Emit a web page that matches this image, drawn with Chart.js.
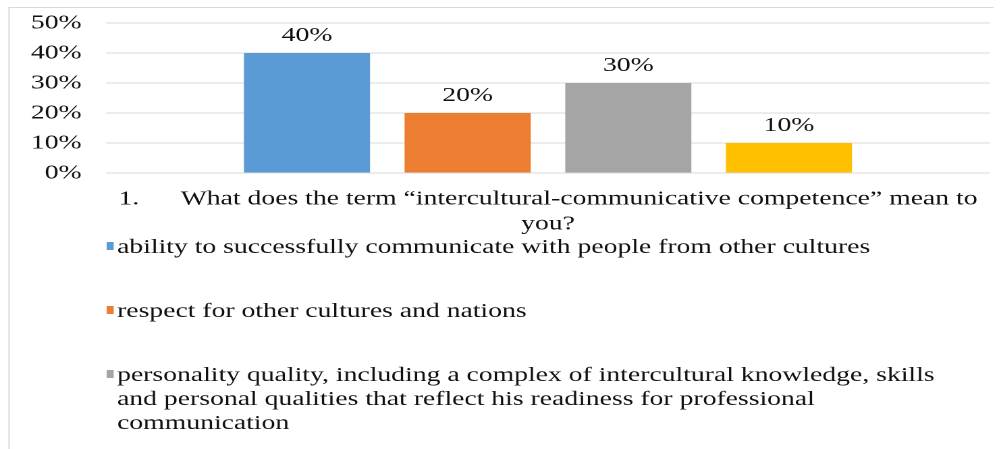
<!DOCTYPE html>
<html>
<head>
<meta charset="utf-8">
<script src="https://cdn.jsdelivr.net/npm/chart.js@4"></script>
<style>
  html, body { margin: 0; padding: 0; background: #fff; overflow: hidden; }
  #wrap { width: 744px; height: 449px; transform: scaleX(1.35); transform-origin: 0 0; }
  canvas { display: block; }
</style>
</head>
<body>
<div id="wrap"><canvas id="chartCompetence" width="744" height="449"></canvas></div>
<script>
// question on the x axis (two lines)
const categories = [
  ["1.      What does the term \u201cintercultural-communicative competence\u201d mean to", "you?"]
];

// answer options, split into the lines they are printed on
const seriesNames = [
  ["ability to successfully communicate with people from other cultures"],
  ["respect for other cultures and nations"],
  ["personality quality, including a complex of intercultural knowledge, skills",
   "and personal qualities that reflect his readiness for professional",
   "communication"],
  [""]
];

const seriesValues = [[40], [20], [30], [10]];
const seriesColors = ["#5B9BD5", "#ED7D31", "#A5A5A5", "#FFC000"];
const yTickMax = 50;
const yTickStep = 10;

const serif = "'Liberation Serif', 'Times New Roman', serif";
const fontSize = 20.5;

// light frame along the top and left of the chart
const framePlugin = {
  id: "frame",
  beforeDraw(chart) {
    const ctx = chart.ctx;
    ctx.save();
    ctx.fillStyle = "#fff";
    ctx.fillRect(0, 0, chart.width, chart.height);
    ctx.strokeStyle = "#D9D9D9";
    ctx.lineWidth = 1;
    ctx.beginPath();
    ctx.moveTo(6.7, chart.height);
    ctx.lineTo(6.7, 7.5);
    ctx.lineTo(736, 7.5);
    ctx.stroke();
    ctx.restore();
  }
};

// value labels above each bar
const valueLabels = {
  id: "valueLabels",
  afterDatasetsDraw(chart) {
    const ctx = chart.ctx;
    ctx.save();
    ctx.font = fontSize + "px " + serif;
    ctx.fillStyle = "#111";
    ctx.textAlign = "center";
    ctx.textBaseline = "alphabetic";
    chart.data.datasets.forEach((ds, i) => {
      chart.getDatasetMeta(i).data.forEach((bar, j) => {
        ctx.fillText(ds.data[j] + "%", bar.x, bar.y - 12);
      });
    });
    ctx.restore();
  }
};

// legend listed below the axis, one entry per row
const rowLegend = {
  id: "rowLegend",
  afterDraw(chart) {
    const ctx = chart.ctx;
    const left = 79;
    const textX = 86.7;
    const lineGap = 24;
    const itemGap = 64;
    let baseline = 253;
    ctx.save();
    ctx.font = fontSize + "px " + serif;
    ctx.textBaseline = "alphabetic";
    ctx.textAlign = "left";
    chart.data.datasets.forEach((ds, i) => {
      ctx.fillStyle = ds.backgroundColor;
      ctx.fillRect(left, baseline - 11, 5.2, 8);
      ctx.fillStyle = "#111";
      const lines = seriesNames[i];
      lines.forEach((line, k) => {
        ctx.fillText(line, textX, baseline + k * lineGap);
      });
      baseline += (lines.length - 1) * lineGap + itemGap;
    });
    ctx.restore();
  }
};

const chartCompetence = document.getElementById("chartCompetence");
new Chart(chartCompetence, {
  type: "bar",
  data: {
    labels: categories,
    datasets: seriesValues.map((vals, i) => ({
      label: seriesNames[i].join(" "),
      data: vals,
      backgroundColor: seriesColors[i],
      borderWidth: 0,
      categoryPercentage: 0.727,
      barPercentage: 0.785
    }))
  },
  options: {
    responsive: false,
    animation: false,
    devicePixelRatio: 2,
    layout: { padding: { top: 23, left: 0, right: 10.7, bottom: 0 } },
    plugins: {
      legend: { display: false },
      tooltip: { enabled: false }
    },
    scales: {
      x: {
        grid: { display: false, drawTicks: false },
        border: { display: false },
        ticks: {
          maxRotation: 0,
          minRotation: 0,
          autoSkip: false,
          padding: 14,
          color: "#111",
          font: { family: serif, size: fontSize, lineHeight: 1.2 }
        },
        afterFit(scale) { scale.height = 276; }
      },
      y: {
        min: 0,
        max: yTickMax,
        grid: { color: "#D9D9D9", lineWidth: 1, drawTicks: false },
        border: { display: false },
        ticks: {
          stepSize: yTickStep,
          padding: 18,
          color: "#111",
          font: { family: serif, size: fontSize },
          callback: (v) => v + "%"
        },
        afterFit(scale) {
          scale.width = 78.5;
          scale.paddingTop = 0;
          scale.paddingBottom = 0;
        }
      }
    }
  },
  plugins: [framePlugin, valueLabels, rowLegend]
});
</script>
</body>
</html>
